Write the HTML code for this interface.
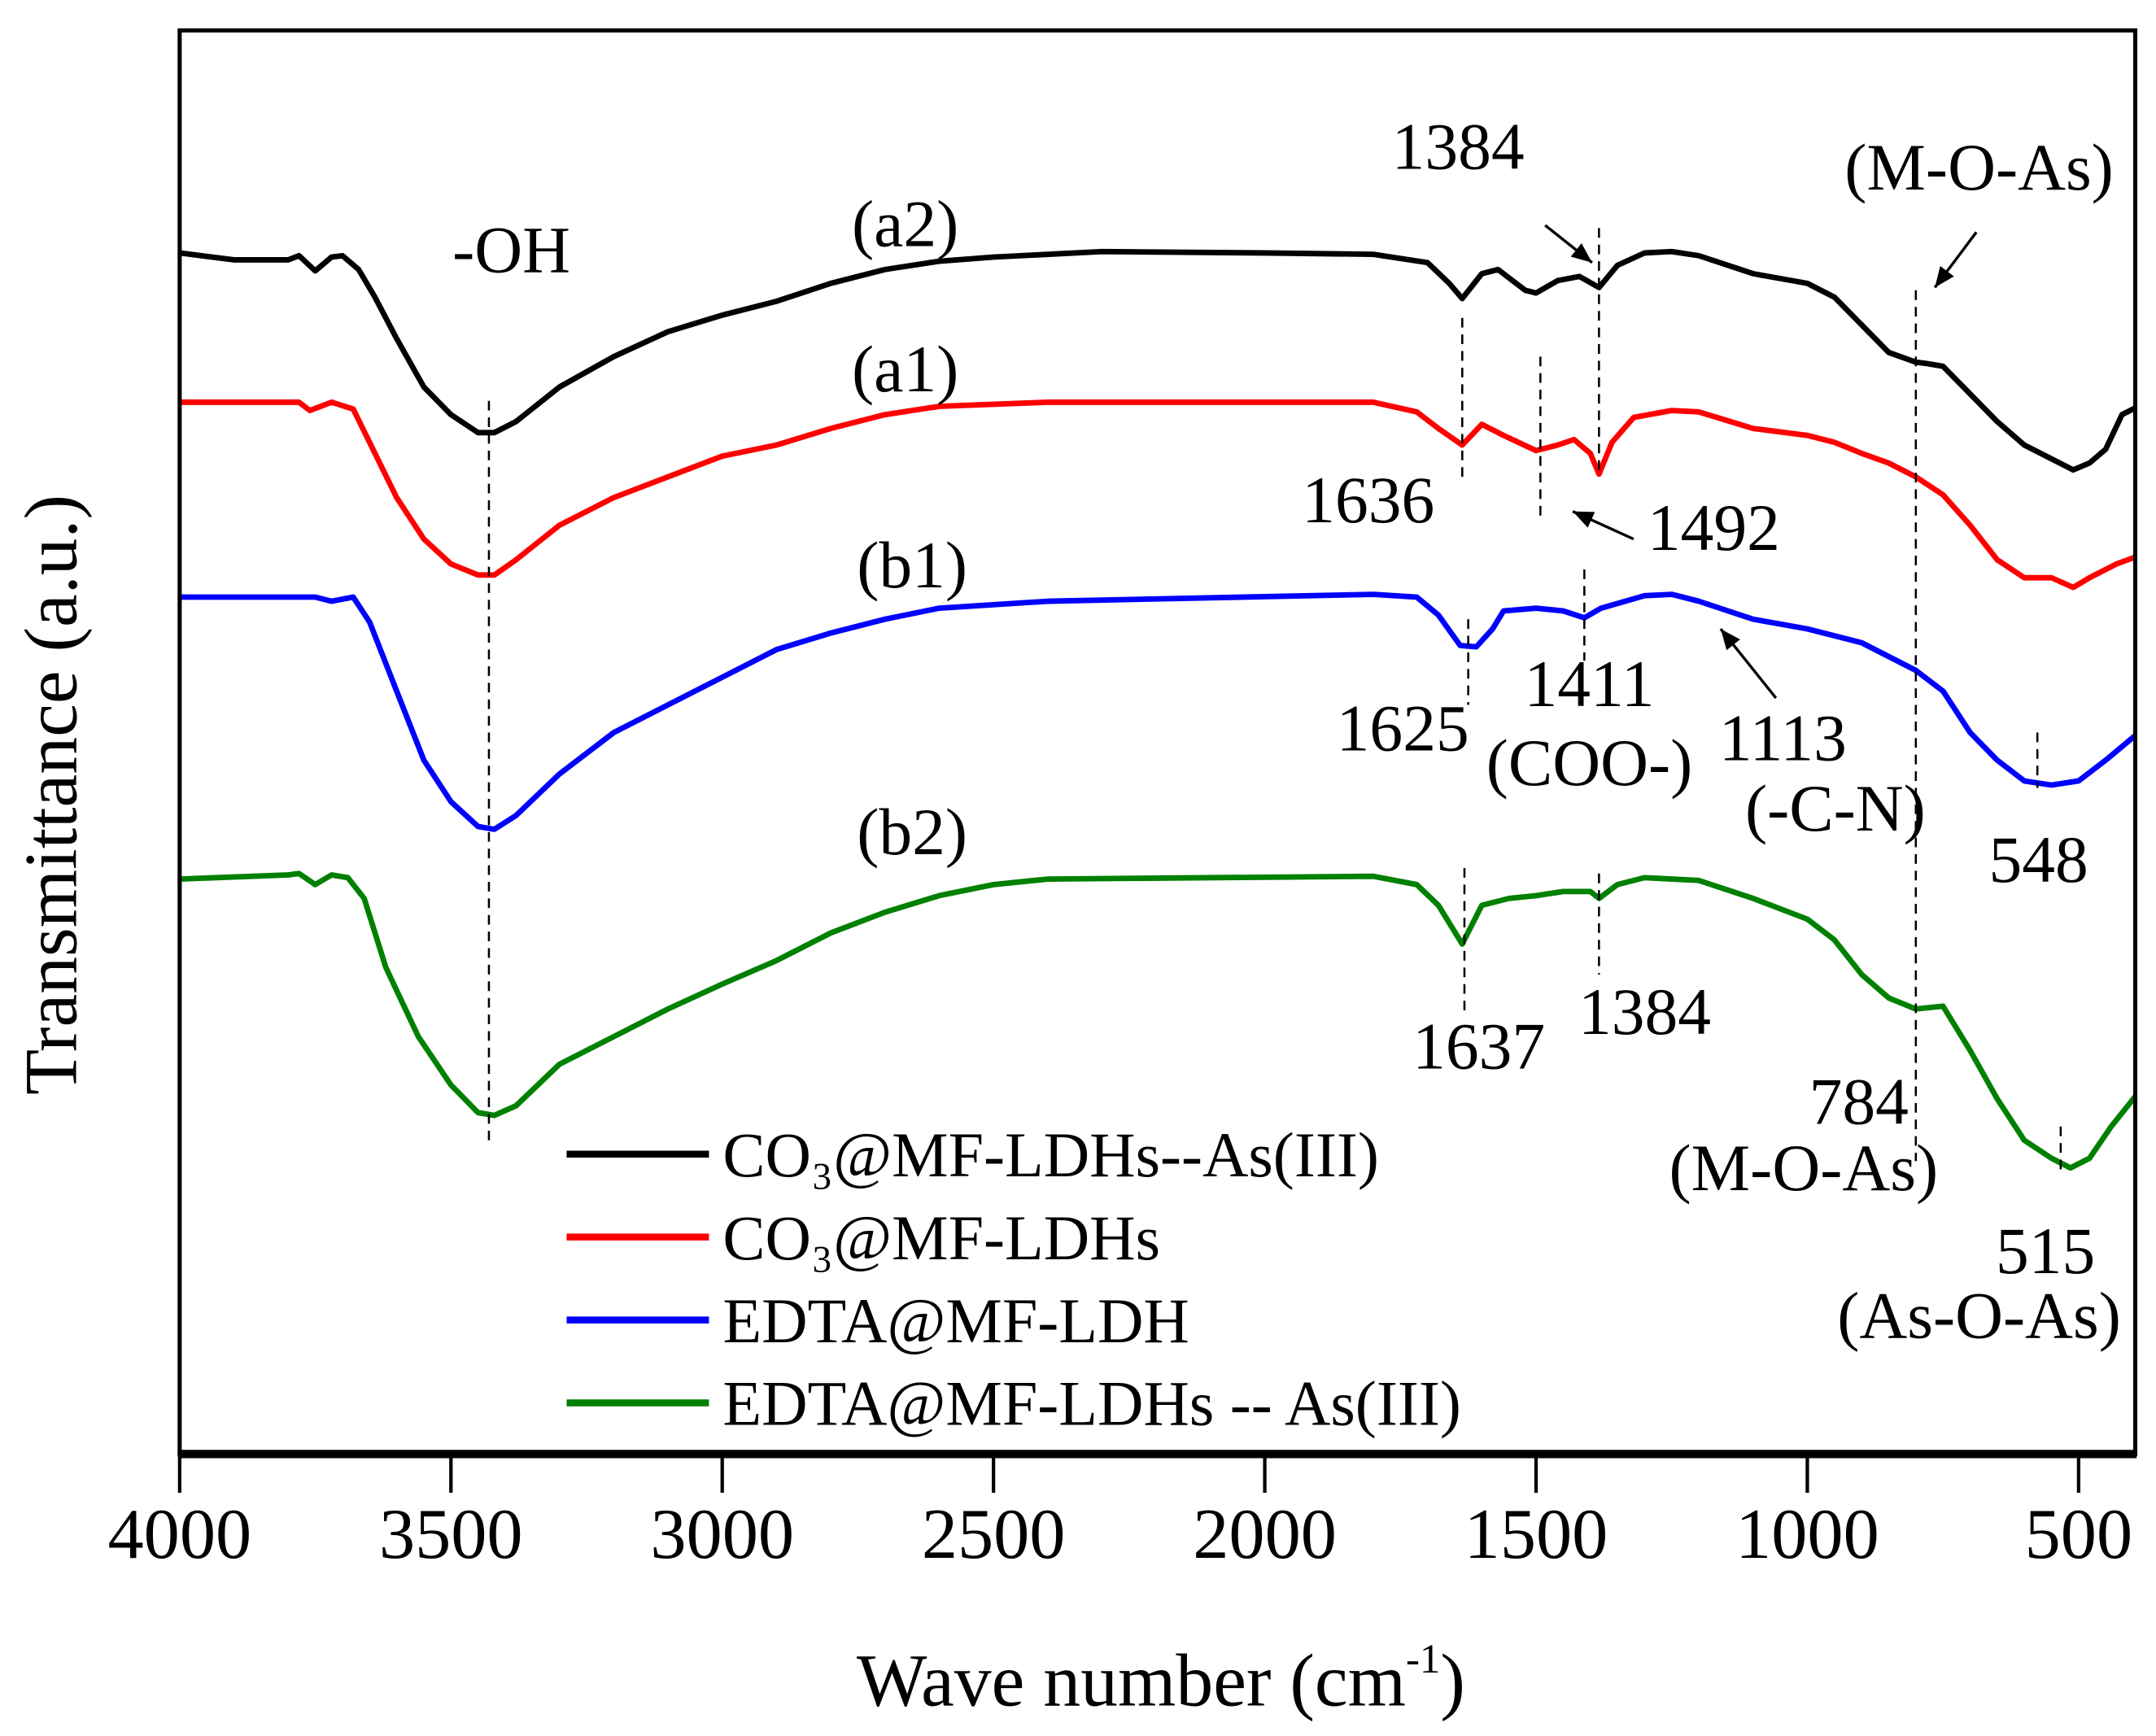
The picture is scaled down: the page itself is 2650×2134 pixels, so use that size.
<!DOCTYPE html>
<html><head><meta charset="utf-8"><style>
html,body{margin:0;padding:0;background:#fff}
svg{display:block}
text{font-family:"Liberation Serif",serif;fill:#000}
</style></head><body>
<svg id="chart" width="2650" height="2134" viewBox="0 0 1560 1256" preserveAspectRatio="none" xmlns="http://www.w3.org/2000/svg">
<g id="marks"></g>
<text x="840" y="1234" font-size="54" text-anchor="middle">Wave number (cm<tspan font-size="30" dy="-24">-1</tspan><tspan dy="24">)</tspan></text>
</svg>
<script>
// Data: wavenumbers (cm-1) and transmittance (a.u., arbitrary offset units)
const xTicks = [4000,3500,3000,2500,2000,1500,1000,500];
const seriesNames = ["CO₃@MF-LDHs--As(III)","CO₃@MF-LDHs","EDTA@MF-LDH","EDTA@MF-LDHs -- As(III)"];
const seriesColors = ["#000000","#ff0000","#0000ff","#008000"];
const a2Wn = [4000,3900,3800,3780,3750,3720,3700,3670,3640,3600,3550,3500,3450,3420,3380,3300,3200,3100,3000,2900,2800,2700,2600,2500,2300,2000,1800,1700,1660,1636,1600,1570,1520,1500,1460,1420,1384,1350,1300,1250,1200,1100,1000,950,900,850,800,780,750,700,650,600,550,510,480,450,420,395];
const a2T = [869,864,864,867,856,866,867,857,837,807,772,752,739,739,747,772,794,812,824,834,847,857,863,866,870,869,868,862,847,836,854,857,842,840,849,852,844,860,869,870,867,854,847,837,817,797,790,789,787,767,747,730,720,712,717,727,752,757];
const a1Wn = [4000,3780,3760,3720,3680,3650,3600,3550,3500,3450,3420,3380,3300,3200,3100,3000,2900,2800,2700,2600,2400,1800,1720,1680,1636,1600,1560,1500,1460,1430,1400,1384,1360,1320,1250,1200,1100,1000,950,900,850,800,750,700,650,600,550,510,480,430,395];
const a1T = [761,761,755,761,756,732,692,662,644,636,636,647,672,692,707,722,730,742,752,758,761,761,754,742,730,745,737,726,730,734,724,709,732,750,755,754,742,737,732,724,717,707,694,672,647,634,634,627,634,644,649];
const b1Wn = [4000,3750,3720,3680,3650,3600,3550,3500,3450,3420,3380,3300,3200,3100,3000,2900,2800,2700,2600,2400,1800,1720,1680,1640,1610,1580,1560,1500,1450,1411,1380,1300,1250,1200,1100,1000,900,850,800,750,700,650,600,550,500,450,395];
const b1T = [620,620,617,620,602,552,502,472,454,452,462,492,522,542,562,582,594,604,612,617,622,620,607,585,584,597,610,612,610,605,612,621,622,617,604,597,587,577,567,552,522,502,487,484,487,502,520];
const b2Wn = [4000,3800,3780,3750,3720,3690,3660,3620,3560,3500,3450,3420,3380,3300,3200,3100,3000,2900,2800,2700,2600,2500,2400,1800,1720,1680,1636,1600,1550,1500,1450,1400,1384,1350,1300,1200,1100,1000,950,900,850,800,750,700,650,600,550,515,480,440,395];
const b2T = [416,419,420,412,419,417,402,352,302,267,247,245,252,282,302,322,340,357,377,392,404,412,416,418,412,397,369,397,402,404,407,407,402,412,417,415,402,387,372,347,330,322,324,292,257,227,214,207,214,237,259];
const seriesWn = [a2Wn,a1Wn,b1Wn,b2Wn];
const seriesT = [a2T,a1T,b1T,b2T];

const L=130,R=1545,T=22,B=1052;
function xs(w){return L+(4000-w)*(1504-130)/3500;}
function ys(v){return B-v;}
const NS="http://www.w3.org/2000/svg";
const g=document.getElementById('marks');
function mk(tag,attrs,parent){const e=document.createElementNS(NS,tag);for(const k in attrs)e.setAttribute(k,attrs[k]);(parent||g).appendChild(e);return e;}
function txt(s,x,y,size,anchor,name){const t=mk('text',{x:x,y:y,'font-size':size,'text-anchor':anchor||'middle'});t.textContent=s;


return t;}

// series
for(let i=0;i<4;i++){
  let d='';
  seriesWn[i].forEach((w,j)=>{d+=(j?'L':'M')+xs(w).toFixed(1)+','+ys(seriesT[i][j]).toFixed(1);});
  const p=mk('path',{d:d,fill:'none',stroke:seriesColors[i],'stroke-width':4,'stroke-linejoin':'round'});
  
  
}

// dashed guide lines [wavenumber, y1, y2]
const dashes=[[3430,290,830],[1636,230,345],[1384,165,345],[1492,258,378],[800,210,840],[1625,448,510],[1411,412,478],[576,530,570],[1632,628,735],[1384,632,705],[533,815,850]];
dashes.forEach(dd=>{const l=mk('line',{x1:xs(dd[0]),x2:xs(dd[0]),y1:dd[1],y2:dd[2],stroke:'#000','stroke-width':1.5,'stroke-dasharray':'7,5'});

});

// frame
const fr=mk('rect',{x:L,y:T,width:R-L,height:B-T,fill:'none',stroke:'#000','stroke-width':3});


const xa=mk('line',{x1:L-1,x2:R+1,y1:B,y2:B,stroke:'#000','stroke-width':6});


xTicks.forEach(w=>{const t=mk('line',{x1:xs(w),x2:xs(w),y1:B,y2:B+28,stroke:'#000','stroke-width':2.5});


txt(String(w),xs(w),1127,52,'middle','x-tick-label');});

const yt=txt('Transmittance (a.u.)',0,0,54,'middle','y-axis-title');
yt.setAttribute('transform','translate(55,575) rotate(-90)');

// annotations
const ann=[['-OH',370,197,'oh-label'],['(a2)',655,178,'a2-label'],['(a1)',655,283,'a1-label'],['(b1)',660,425,'b1-label'],['(b2)',660,618,'b2-label'],
['1384',1055,122,'peak-1384-a2'],['(M-O-As)',1432,137,'m-o-as-top'],['1636',990,378,'peak-1636'],['1492',1240,398,'peak-1492'],
['1625',1015,543,'peak-1625'],['1411',1150,511,'peak-1411'],['(COO-)',1150,568,'coo-label'],['1113',1290,550,'peak-1113'],
['(-C-N)',1328,601,'cn-label'],['548',1475,638,'peak-548'],['1637',1070,773,'peak-1637'],['1384',1190,748,'peak-1384-b2'],
['784',1345,813,'peak-784'],['(M-O-As)',1305,861,'m-o-as-bottom'],['515',1480,921,'peak-515'],['(As-O-As)',1432,968,'as-o-as-label']];
ann.forEach(a=>txt(a[0],a[1],a[2],48,'middle',a[3]));

// arrows
const arrows=[[1118,163,1152,190],[1430,168,1400,208],[1182,390,1138,370],[1285,505,1245,455]];
arrows.forEach(a=>{const l=mk('line',{x1:a[0],y1:a[1],x2:a[2],y2:a[3],stroke:'#000','stroke-width':2});


const ang=Math.atan2(a[3]-a[1],a[2]-a[0]),s=16,w=0.4;
const p=mk('polygon',{points:[a[2],a[3],a[2]-s*Math.cos(ang-w),a[3]-s*Math.sin(ang-w),a[2]-s*Math.cos(ang+w),a[3]-s*Math.sin(ang+w)].join(','),fill:'#000'});

});

// legend
seriesNames.forEach((n,i)=>{const y=835+i*60;
const l=mk('line',{x1:410,x2:513,y1:y,y2:y,stroke:seriesColors[i],'stroke-width':5});


txt(n,523,y+16,46,'start','legend-entry-'+(i+1));});
</script>
</body></html>
